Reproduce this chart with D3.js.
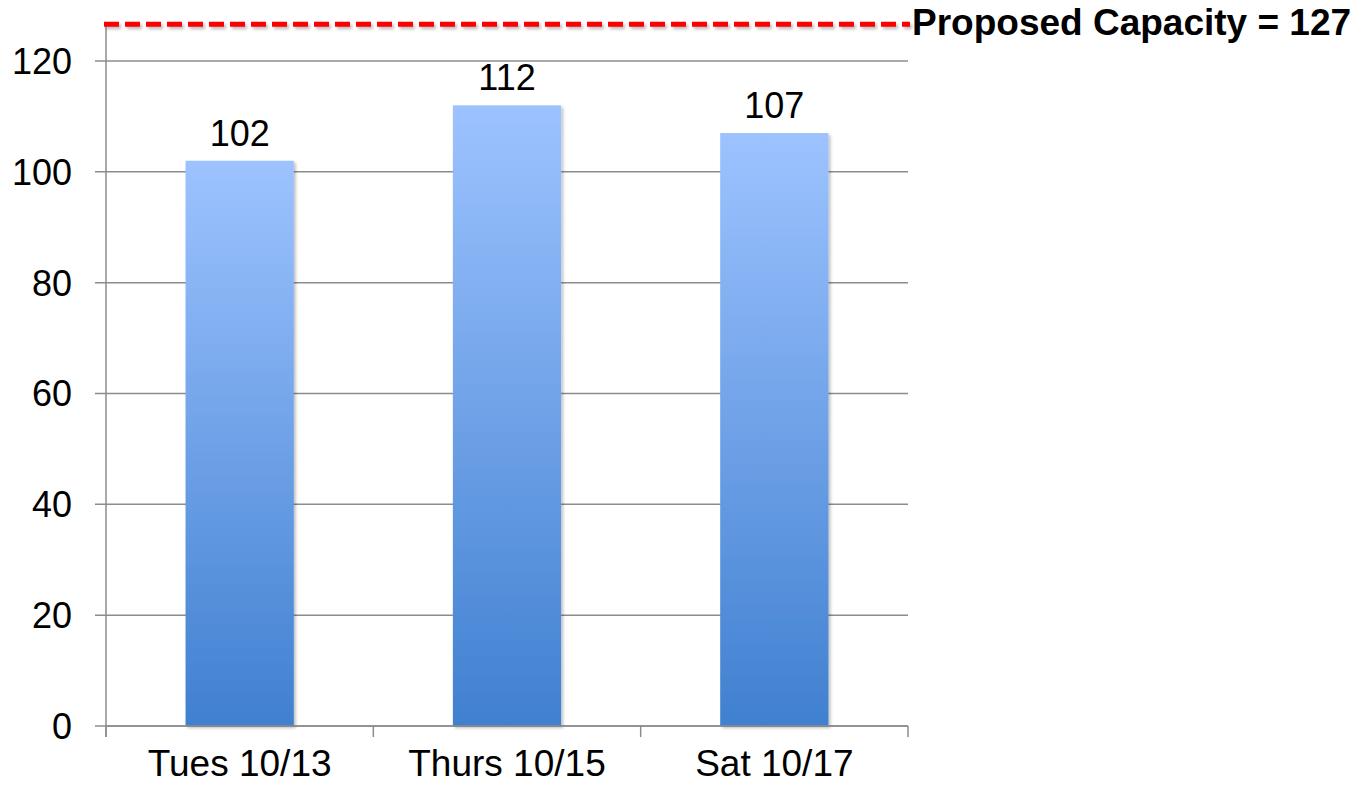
<!DOCTYPE html>
<html>
<head>
<meta charset="utf-8">
<script src="https://cdn.jsdelivr.net/npm/d3@7"></script>
<style>
  body { margin: 0; background: #fff; }
  text { font-family: "Liberation Sans", Arial, sans-serif; }
</style>
</head>
<body>
<div id="chart"></div>
<script>
// data
var categories = ["Tues 10/13", "Thurs 10/15", "Sat 10/17"];
var values = [102, 112, 107];
var yTicks = [0, 20, 40, 60, 80, 100, 120];
var capacity = 127;
var capacityLabel = "Proposed Capacity = " + capacity;

var width = 1366, height = 785;
var left = 106, right = 908, top0 = 61, bottom = 726;

var svg = d3.select("#chart").append("svg")
    .attr("width", width)
    .attr("height", height);

var defs = svg.append("defs");
var grad = defs.append("linearGradient")
    .attr("id", "barGrad")
    .attr("x1", 0).attr("y1", 0).attr("x2", 0).attr("y2", 1);
grad.append("stop").attr("offset", "0%").attr("stop-color", "#9dc3ff");
grad.append("stop").attr("offset", "100%").attr("stop-color", "#4080d0");

var shadow = defs.append("filter").attr("id", "shadow")
    .attr("x", "-10%").attr("y", "-10%").attr("width", "130%").attr("height", "130%");
shadow.append("feDropShadow")
    .attr("dx", 2).attr("dy", 2).attr("stdDeviation", 1.5)
    .attr("flood-color", "#000").attr("flood-opacity", 0.25);

var blur = defs.append("filter").attr("id", "blur")
    .attr("filterUnits", "userSpaceOnUse")
    .attr("x", 0).attr("y", 0).attr("width", width).attr("height", 80);
blur.append("feGaussianBlur").attr("stdDeviation", 1.5);

//
// Scales
//
var x = d3.scaleBand().domain(categories).range([left, right]).paddingInner(0).paddingOuter(0);
var y = d3.scaleLinear().domain([0, 120]).range([bottom, top0]);

var barW = x.bandwidth() * 0.405;

// gridlines
svg.append("g")
    .selectAll("line")
    .data(yTicks)
    .join("line")
    .attr("x1", left - 11)
    .attr("x2", right)
    .attr("y1", function(d) { return y(d); })
    .attr("y2", function(d) { return y(d); })
    .attr("stroke", "#8c8c8c")
    .attr("stroke-width", 1.5);

// y tick labels
svg.append("g")
    .selectAll("text")
    .data(yTicks)
    .join("text")
    .attr("x", left - 34)
    .attr("y", function(d) { return y(d); })
    .attr("dy", "0.36em")
    .attr("text-anchor", "end")
    .attr("font-size", 36)
    .attr("fill", "#000")
    .text(function(d) { return d; });

// bars
svg.append("g")
    .selectAll("rect")
    .data(values)
    .join("rect")
    .attr("x", function(d, i) { return x(categories[i]) + (x.bandwidth() - barW) / 2; })
    .attr("y", function(d) { return y(d); })
    .attr("width", barW)
    .attr("height", function(d) { return y(0) - y(d); })
    .attr("fill", "url(#barGrad)")
    .attr("filter", "url(#shadow)");

// value labels
svg.append("g")
    .selectAll("text")
    .data(values)
    .join("text")
    .attr("x", function(d, i) { return x(categories[i]) + x.bandwidth() / 2; })
    .attr("y", function(d) { return y(d) - 15; })
    .attr("text-anchor", "middle")
    .attr("font-size", 36)
    .attr("fill", "#000")
    .text(function(d) { return d; });

// axes lines
svg.append("line")
    .attr("x1", left).attr("x2", left)
    .attr("y1", y(capacity) + 2).attr("y2", bottom + 11)
    .attr("stroke", "#8c8c8c").attr("stroke-width", 1.5);

svg.append("line")
    .attr("x1", left).attr("x2", right)
    .attr("y1", bottom).attr("y2", bottom)
    .attr("stroke", "#8c8c8c").attr("stroke-width", 1.5);

var bounds = categories.map(function(c) { return x(c); }).concat([right]);
svg.append("g")
    .selectAll("line")
    .data(bounds)
    .join("line")
    .attr("x1", function(d) { return d; })
    .attr("x2", function(d) { return d; })
    .attr("y1", bottom)
    .attr("y2", bottom + 11)
    .attr("stroke", "#8c8c8c")
    .attr("stroke-width", 1.5);

// x labels
svg.append("g")
    .selectAll("text")
    .data(categories)
    .join("text")
    .attr("x", function(d) { return x(d) + x.bandwidth() / 2; })
    .attr("y", 776)
    .attr("text-anchor", "middle")
    .attr("font-size", 37)
    .attr("fill", "#000")
    .text(function(d) { return d; });

// capacity line (with soft shadow underneath)
var capY = y(capacity) + 2;
svg.append("line")
    .attr("x1", left).attr("x2", 912)
    .attr("y1", capY + 2.5).attr("y2", capY + 2.5)
    .attr("stroke", "#000")
    .attr("stroke-opacity", 0.25)
    .attr("stroke-width", 5)
    .attr("stroke-dasharray", "15,6")
    .attr("filter", "url(#blur)");

svg.append("line")
    .attr("x1", left - 2)
    .attr("x2", 910)
    .attr("y1", capY)
    .attr("y2", capY)
    .attr("stroke", "#ff0000")
    .attr("stroke-width", 5)
    .attr("stroke-dasharray", "15,6");

svg.append("text")
    .attr("x", 912)
    .attr("y", capY + 11)
    .attr("font-size", 37)
    .attr("font-weight", "bold")
    .attr("fill", "#000")
    .text(capacityLabel);
</script>
</body>
</html>
